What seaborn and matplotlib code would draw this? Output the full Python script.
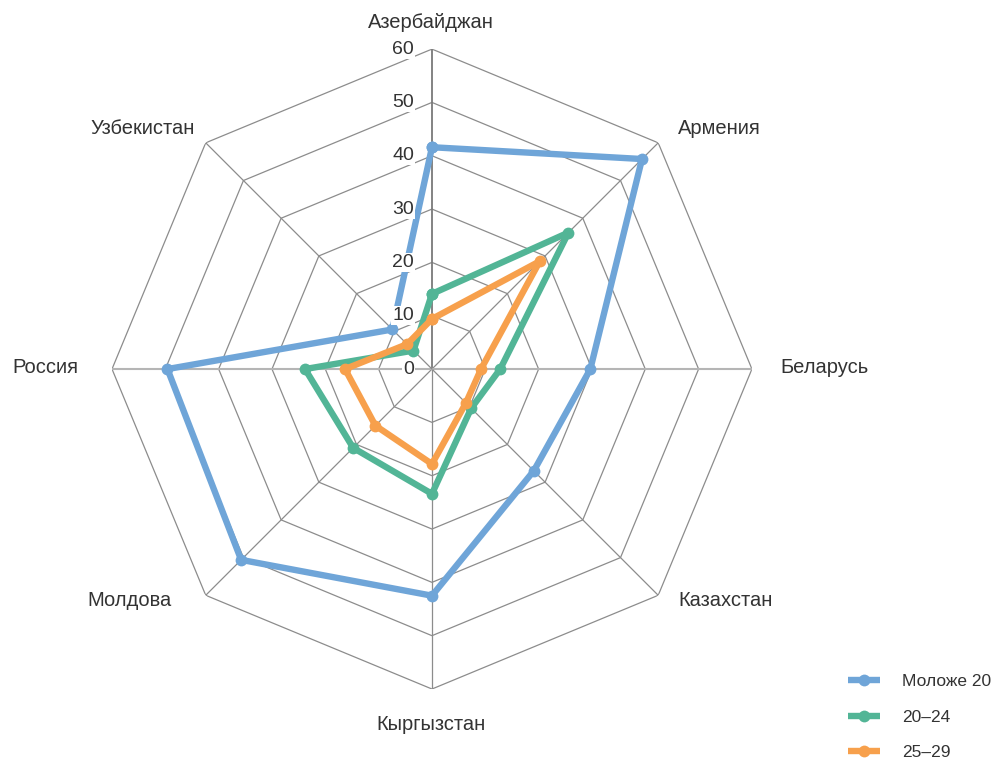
import numpy as np
import pandas as pd
import matplotlib
matplotlib.use("Agg")
import matplotlib.pyplot as plt
import seaborn as sns

# categories clockwise from the top
countries = ["Азербайджан", "Армения", "Беларусь", "Казахстан",
             "Кыргызстан", "Молдова", "Россия", "Узбекистан"]
series_names = ["Моложе 20", "20–24", "25–29"]
under_20 = [41.6, 55.7, 29.7, 27.0, 42.5, 50.6, 49.6, 10.5]
age_20_24 = [14.1, 36.2, 12.8, 10.4, 23.4, 20.9, 23.8, 4.9]
age_25_29 = [9.4, 28.6, 9.2, 9.0, 17.8, 15.0, 16.3, 6.6]
r_ticks = [0, 10, 20, 30, 40, 50, 60]
colors = {"Моложе 20": "#6FA5D8", "20–24": "#52B596", "25–29": "#F7A04C"}

sns.set_theme(style="white")
plt.rcParams["font.family"] = ["Liberation Sans", "DejaVu Sans"]

W, H = 999, 760
n = len(countries)
angles = np.linspace(0, 2 * np.pi, n, endpoint=False)

# long table, each series closed back to its first point
rows = []
for name, vals in zip(series_names, [under_20, age_20_24, age_25_29]):
    for i in range(n + 1):
        rows.append({"series": name, "theta": angles[i] if i < n else 2 * np.pi,
                     "value": vals[i % n]})
df = pd.DataFrame(rows)

fig = plt.figure(figsize=(W / 100, H / 100), dpi=100)
ax = fig.add_axes([0.1121, 0.0934, 0.6406, 0.842], projection="polar")
ax.set_theta_zero_location("N")
ax.set_theta_direction(-1)
ax.set_ylim(0, 60)
ax.grid(False)
ax.spines["polar"].set_visible(False)
ax.set_xticks([])
ax.set_yticks([])
ax.set_facecolor("white")

# octagon grid
closed = np.append(angles, angles[0])
for r in r_ticks[1:]:
    ax.plot(closed, [r] * (n + 1), color="#8C8C8C", lw=0.9, zorder=1)
for i, a in enumerate(angles):
    if i == 0:
        col, lw = "#7A7A7A", 1.3
    elif i in (2, 6):
        col, lw = "#B5B5B5", 1.5
    else:
        col, lw = "#8C8C8C", 0.9
    ax.plot([a, a], [0, 60], color=col, lw=lw, zorder=1)

sns.lineplot(data=df, x="theta", y="value", hue="series", hue_order=series_names,
             palette=colors, sort=False, estimator=None, units="series",
             marker="o", markersize=8.5, markeredgewidth=0, linewidth=4.6,
             ax=ax, zorder=3, legend=False)
ax.set_xlabel("")
ax.set_ylabel("")
ax.set_ylim(0, 60)

# radial tick labels with white backing
for r in r_ticks:
    ax.annotate(str(r), xy=(0, r), xytext=(-13, 0), textcoords="offset points",
                ha="right", va="center", fontsize=14, color="#333333",
                bbox=dict(boxstyle="square,pad=0.05", fc="white", ec="none"),
                zorder=5)

# category labels (pixel anchors around the chart)
label_pos = [
    (431, 22, "center"), (678, 128, "left"), (780, 368, "left"), (678, 600, "left"),
    (431, 725, "center"), (172, 600, "right"), (78, 368, "right"), (195, 128, "right"),
]
for name, (px, py, ha) in zip(countries, label_pos):
    fig.text(px / W, 1 - py / H, name, ha=ha, va="center", fontsize=14.5,
             color="#333333")

# legend
handles = [plt.Line2D([0], [0], color=colors[s], lw=4.6, marker="o", markersize=8.5,
                      markeredgewidth=0, solid_capstyle="butt") for s in series_names]
fig.legend(handles, series_names, loc="lower left", bbox_to_anchor=(0.833, -0.021),
           frameon=False, fontsize=12.5, handlelength=1.85, handletextpad=1.3,
           labelspacing=1.17, labelcolor="#333333")

fig.savefig("out.png", dpi=100, facecolor="white")
